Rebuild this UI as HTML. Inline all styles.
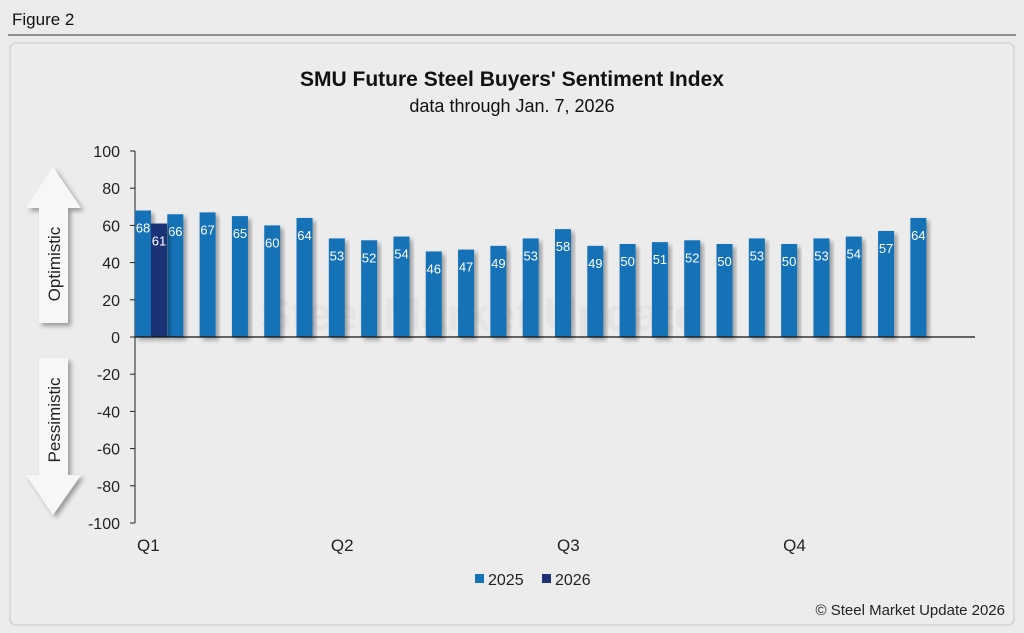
<!DOCTYPE html>
<html><head><meta charset="utf-8"><style>
body{margin:0;background:#ebebeb;font-family:"Liberation Sans",Arial,sans-serif;}
svg{display:block}
</style></head><body>
<svg width="1024" height="633" viewBox="0 0 1024 633" xmlns="http://www.w3.org/2000/svg">
<defs>
<filter id="sh" x="-30%" y="-10%" width="160%" height="130%"><feDropShadow dx="3" dy="3" stdDeviation="2.5" flood-color="#000" flood-opacity="0.35"/></filter>
</defs>
<rect x="0" y="0" width="1024" height="633" fill="#ebebeb"/>
<text x="12" y="25" font-size="17" fill="#111">Figure 2</text>
<line x1="8" y1="35" x2="1016" y2="35" stroke="#333" stroke-width="1"/>
<rect x="10" y="43" width="1004" height="582" rx="6" fill="#ececec" stroke="#c8c8c8"/>
<text x="512" y="86" text-anchor="middle" font-size="21" font-weight="bold" fill="#111">SMU Future Steel Buyers' Sentiment Index</text>
<text x="512" y="112" text-anchor="middle" font-size="18" fill="#111">data through Jan. 7, 2026</text>
<text x="480" y="330" text-anchor="middle" font-size="46" font-weight="bold" fill="#e4e4e4">Steel Market Update</text>
<g filter="url(#sh)">
<polygon points="53,167 81,208 68,208 68,323 39,323 39,208 26,208" fill="#f7f7f7"/>
</g>
<text transform="translate(60,264) rotate(-90)" text-anchor="middle" font-size="17" fill="#222">Optimistic</text>
<g filter="url(#sh)">
<polygon points="39,358 68,358 68,475 81,475 53,515 26,475 39,475" fill="#f7f7f7"/>
</g>
<text transform="translate(60,420) rotate(-90)" text-anchor="middle" font-size="17" fill="#222">Pessimistic</text>
<g id="axes"></g>
<g id="bars"></g>
<g>
<rect x="475" y="574" width="9" height="9" fill="#1272b6"/>
<text x="488" y="585" font-size="16" fill="#222">2025</text>
<rect x="542" y="574" width="9" height="9" fill="#1f3277"/>
<text x="555" y="585" font-size="16" fill="#222">2026</text>
</g>
<text x="1005" y="615" text-anchor="end" font-size="15" fill="#222">© Steel Market Update 2026</text>
</svg>
<script>
const yTicks=[100,80,60,40,20,0,-20,-40,-60,-80,-100];
const values2025=[68,66,67,65,60,64,53,52,54,46,47,49,53,58,49,50,51,52,50,53,50,53,54,57,64,null];
const values2026=[61,null,null,null,null,null,null,null,null,null,null,null,null,null,null,null,null,null,null,null,null,null,null,null,null,null];
const quarterLabels=["Q1","Q2","Q3","Q4"];
const quarterIdx=[0,6,13,20];
const NS="http://www.w3.org/2000/svg";
const x0=135,x1=975,n=values2025.length,gw=(x1-x0)/n,bw=16;
const y=v=>337-v*1.86;
const gx=i=>x0+i*gw;
function mk(t,a,p){const e=document.createElementNS(NS,t);for(const k in a)e.setAttribute(k,a[k]);p.appendChild(e);return e;}
const ax=document.getElementById('axes'),bg=document.getElementById('bars');
yTicks.forEach(t=>{
 const l=mk('line',{x1:x0-5,x2:x0,y1:y(t),y2:y(t),stroke:'#222'},ax);
 
 
 const tx=mk('text',{x:x0-15,y:y(t)+6,'text-anchor':'end','font-size':16,fill:'#222'},ax);
 tx.textContent=t;
 
 
});
const ya=mk('line',{x1:x0,x2:x0,y1:y(100),y2:y(-100),stroke:'#222'},ax);


quarterLabels.forEach((q,k)=>{
 const tx=mk('text',{x:gx(quarterIdx[k])+2,y:551,'font-size':17,fill:'#222'},ax);
 tx.textContent=q;
 
 
});
function bar(v,xl,col,name){
 if(v==null)return;
 const r=mk('rect',{x:xl,y:y(v),width:bw,height:y(0)-y(v),fill:col,filter:'url(#sh)'},bg);
 
 
 const t=mk('text',{x:xl+bw/2,y:y(v)+22,'text-anchor':'middle','font-size':13,fill:'#fff'},bg);
 t.textContent=v;
 
 
}
values2025.forEach((v,i)=>bar(v,gx(i),'#1272b6','bar-2025'));
values2026.forEach((v,i)=>bar(v,gx(i)+bw,'#1f3277','bar-2026'));
const xa=mk('line',{x1:x0,x2:x1,y1:y(0),y2:y(0),stroke:'#111','stroke-width':1.2},ax);


bg.parentNode.appendChild(xa);
</script>
</body></html>
